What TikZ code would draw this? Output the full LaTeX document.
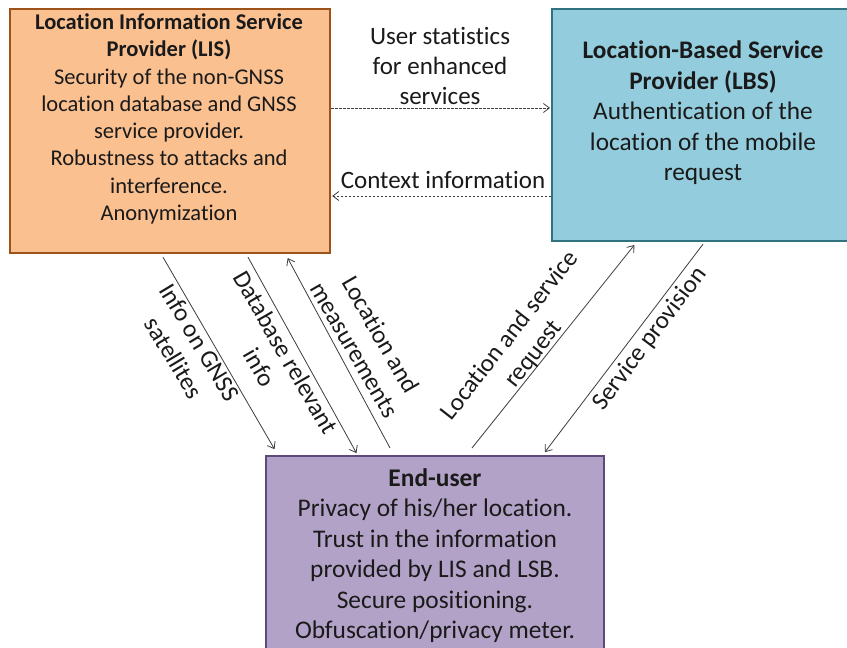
\documentclass[tikz,border=0pt]{standalone}
\usepackage{fontspec}
\setmainfont{Carlito}[Ligatures=NoCommon]
\usetikzlibrary{arrows.meta,calc}

\definecolor{lisfill}{HTML}{FAC090}
\definecolor{lisedge}{HTML}{9C5218}
\definecolor{lbsfill}{HTML}{93CDDD}
\definecolor{lbsedge}{HTML}{31727F}
\definecolor{eufill}{HTML}{B3A2C7}
\definecolor{euedge}{HTML}{5F497A}
\definecolor{ink}{HTML}{1A1A1A}

\tikzset{
  box/.style={draw, line width=2.2pt, rectangle, inner sep=0pt, anchor=north west},
  boxtext/.style={align=center, inner sep=0pt, text=ink},
  flow/.style={draw=ink!85, line width=0.8pt, -{Straight Barb[length=6pt,width=9pt]}, shorten >=1pt},
  dflow/.style={flow, dash pattern=on 2.5pt off 1.5pt},
  lbl/.style={align=center, inner sep=0pt, text=ink, font=\fontsize{25}{30}\selectfont},
}

\begin{document}
\begin{tikzpicture}[x=1pt, y=-1pt]
  \useasboundingbox (0,0) rectangle (847,648);

  % the three parties
  \node[box, draw=lisedge, fill=lisfill, minimum width=320pt, minimum height=244pt] (lis) at (9,8) {};
  \node[box, draw=lbsedge, fill=lbsfill, minimum width=300pt, minimum height=232pt] (lbs) at (551,8) {};
  \node[box, draw=euedge, fill=eufill, minimum width=338pt, minimum height=200pt] (eu) at (265,455) {};

  \node[boxtext, font=\fontsize{22.5}{27.3}\selectfont, anchor=north] (listext) at (169,13.5)
    {\textbf{Location Information Service}\\ \textbf{Provider (LIS)}\\
     Security of the non-GNSS\\ location database and GNSS\\ service provider.\\
     Robustness to attacks and\\ interference.\\ Anonymization};
  \node[boxtext, font=\fontsize{25.3}{30.5}\selectfont, anchor=north] (lbstext) at (703,41)
    {\textbf{Location-Based Service}\\ \textbf{Provider (LBS)}\\
     Authentication of the\\ location of the mobile\\ request};
  \node[boxtext, font=\fontsize{25.4}{30.5}\selectfont, anchor=north] (eutext) at (435,468)
    {\textbf{End-user}\\ Privacy of his/her location.\\ Trust in the information\\
     provided by LIS and LSB.\\ Secure positioning.\\ Obfuscation/privacy meter.};

  % exchanges between the providers
  \draw[dflow] ([yshift=-100pt]lis.north east) -- ([yshift=-100pt]lbs.north west);
  \draw[dflow] ([yshift=-188pt]lbs.north west) -- ([yshift=-188pt]lis.north east);
  \node[lbl] (lstat) at (440,66) {User statistics\\ for enhanced\\ services};
  \node[lbl] (lctx) at (443,180) {Context information};

  % exchanges with the end-user
  \draw[flow] ([shift={(154pt,-3pt)}]lis.south west) -- ([shift={(10pt,5pt)}]eu.north west);
  \draw[flow] ([shift={(239pt,-3pt)}]lis.south west) -- ([shift={(92pt,1pt)}]eu.north west);
  \draw[flow] ([shift={(125pt,7pt)}]eu.north west) -- ([shift={(-44pt,-3pt)}]lis.south east);
  \draw[flow] ([shift={(207pt,7pt)}]eu.north west) -- ([shift={(84pt,-2pt)}]lbs.south west);
  \draw[flow] ([shift={(152pt,-2pt)}]lbs.south west) -- ([shift={(-61pt,2pt)}]eu.north east);

  \node[lbl, rotate=-59] (lgnss) at (187,350) {Info on GNSS\\ satellites};
  \node[lbl, rotate=-60] (ldb) at (273,360) {Database relevant\\ info};
  \node[lbl, rotate=-60] (lmeas) at (368,342) {Location and\\ measurements};
  \node[lbl, rotate=52] (lreq) at (522,345) {Location and service\\ request};
  \node[lbl, rotate=53] (lprov) at (650,339) {Service provision};
\end{tikzpicture}
\end{document}
